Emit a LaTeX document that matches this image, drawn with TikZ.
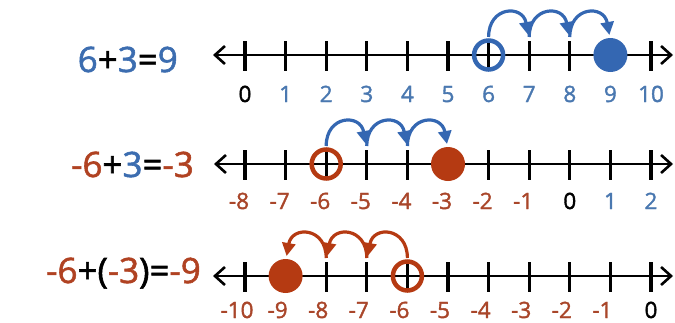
\documentclass[tikz,border=0pt]{standalone}
\usepackage{fontspec}
\setmainfont{Open Sans}[FakeBold=1.6]
\usetikzlibrary{arrows.meta}
\definecolor{nblue}{HTML}{3467B2}
\definecolor{nred}{HTML}{B53A12}
\definecolor{lblue}{HTML}{4A78B0}
\definecolor{lred}{HTML}{A9462A}
\definecolor{eblue}{HTML}{3C6DB0}
\definecolor{ered}{HTML}{B04222}
\tikzset{
  numline/.style={line width=2.6pt, {Straight Barb[length=10pt,width=18pt]}-{Straight Barb[length=10pt,width=18pt]}},
  tickmark/.style={line width=3.2pt},
  ring/.style={line width=4.5pt},
  jump/.style={line width=3.2pt, -{Triangle[length=13pt,width=13pt]}},
  lab/.style={anchor=base, font=\fontsize{22.5}{22.5}\selectfont, inner sep=0pt},
  eqn/.style={anchor=base east, font=\fontsize{35}{35}\selectfont, inner sep=0pt},
}
\newcommand{\labcolor}[1]{\ifnum#1<0 lred\else\ifnum#1>0 lblue\else black\fi\fi}
\begin{document}
\begin{tikzpicture}[x=1pt,y=1pt]
\useasboundingbox (0,0) rectangle (675,-322);
% ---------- row 1 ----------
\coordinate (L1) at (213,-55); \coordinate (R1) at (673,-55);
\draw[numline] (L1) -- (R1);
\foreach \k in {0,...,10}{
  \coordinate (a\k) at (245+40.6*\k,-55);
  \draw[tickmark] ([yshift=14pt]a\k) -- ([yshift=-16pt]a\k);
  \pgfmathtruncatemacro\v{\k}
  \edef\col{\labcolor{\v}}
  \node[lab, text=\col] (la\k) at ([yshift=-47pt]a\k) {\v};
}
\draw[ring, nblue] (a6) circle[radius=14.5];
\fill[nblue] (a9) circle[radius=17];
\draw[jump, nblue] ([yshift=18pt]a6) to[out=90,in=100,looseness=2] ([xshift=-1pt,yshift=20pt]a7);
\draw[jump, nblue] ([yshift=18pt]a7) to[out=90,in=100,looseness=2] ([xshift=-1pt,yshift=20pt]a8);
\draw[jump, nblue] ([yshift=18pt]a8) to[out=90,in=100,looseness=2] ([xshift=-1pt,yshift=20pt]a9);
\node[eqn] (e1) at (178,-72) {\textcolor{eblue}{6}+\textcolor{eblue}{3}=\textcolor{eblue}{9}};
% ---------- row 2 ----------
\coordinate (L2) at (214,-164); \coordinate (R2) at (673,-164);
\draw[numline] (L2) -- (R2);
\foreach \k in {0,...,10}{
  \coordinate (b\k) at (245+40.6*\k,-164);
  \draw[tickmark] ([yshift=14pt]b\k) -- ([yshift=-16pt]b\k);
  \pgfmathtruncatemacro\v{\k-8}
  \edef\col{\labcolor{\v}}
  \ifnum\v<0 \def\dx{-6}\else\def\dx{0}\fi
  \node[lab, text=\col] (lb\k) at ([xshift=\dx pt,yshift=-45pt]b\k) {\v};
}
\draw[ring, nred] (b2) circle[radius=14.5];
\fill[nred] (b5) circle[radius=17];
\draw[jump, nblue] ([yshift=18pt]b2) to[out=90,in=100,looseness=2] ([xshift=-1pt,yshift=20pt]b3);
\draw[jump, nblue] ([yshift=18pt]b3) to[out=90,in=100,looseness=2] ([xshift=-1pt,yshift=20pt]b4);
\draw[jump, nblue] ([yshift=18pt]b4) to[out=90,in=100,looseness=2] ([xshift=-1pt,yshift=20pt]b5);
\node[eqn] (e2) at (194,-177) {\textcolor{ered}{-6}+\textcolor{eblue}{3}=\textcolor{ered}{-3}};
% ---------- row 3 ----------
\coordinate (L3) at (213,-276); \coordinate (R3) at (673,-276);
\draw[numline] (L3) -- (R3);
\foreach \k in {0,...,10}{
  \coordinate (c\k) at (245+40.6*\k,-276);
  \draw[tickmark] ([yshift=14pt]c\k) -- ([yshift=-16pt]c\k);
  \pgfmathtruncatemacro\v{\k-10}
  \edef\col{\labcolor{\v}}
  \ifnum\v<0 \def\dx{-8}\else\def\dx{0}\fi
  \node[lab, text=\col] (lc\k) at ([xshift=\dx pt,yshift=-42pt]c\k) {\v};
}
\fill[nred] (c1) circle[radius=17];
\draw[ring, nred] (c4) circle[radius=14.5];
\draw[jump, nred] ([yshift=18pt]c4) to[out=90,in=80,looseness=2] ([xshift=1pt,yshift=20pt]c3);
\draw[jump, nred] ([yshift=18pt]c3) to[out=90,in=80,looseness=2] ([xshift=1pt,yshift=20pt]c2);
\draw[jump, nred] ([yshift=18pt]c2) to[out=90,in=80,looseness=2] ([xshift=1pt,yshift=20pt]c1);
\node[eqn] (e3) at (201,-283) {\textcolor{ered}{-6}+(\textcolor{ered}{-3})=\textcolor{ered}{-9}};
\end{tikzpicture}
\end{document}
